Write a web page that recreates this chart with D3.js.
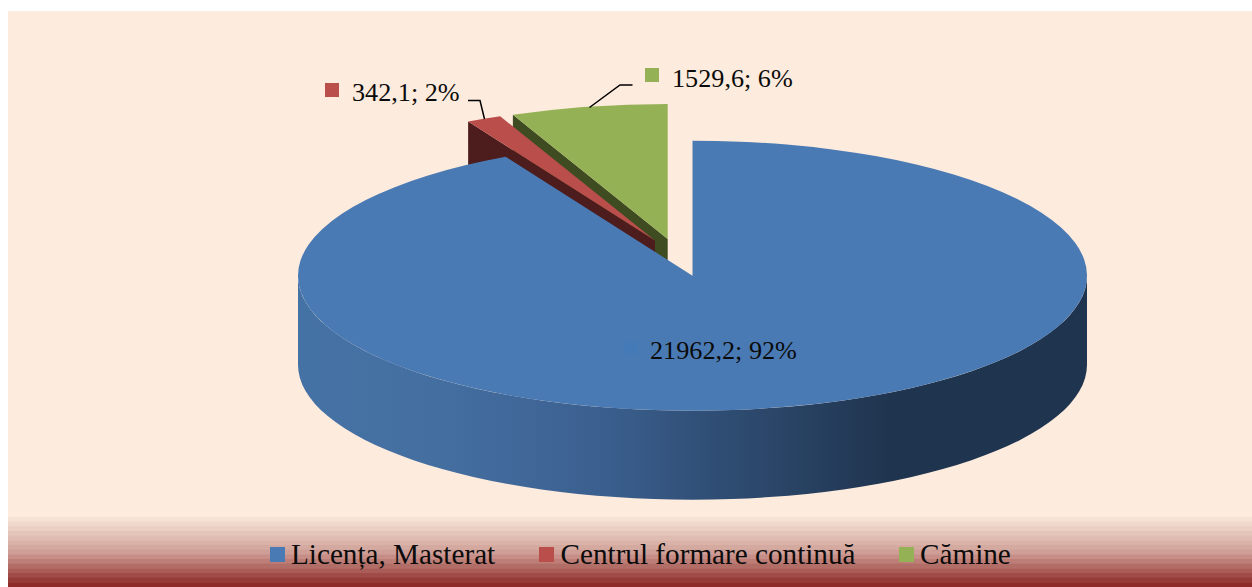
<!DOCTYPE html>
<html>
<head>
<meta charset="utf-8">
<script src="https://cdn.jsdelivr.net/npm/d3@7"></script>
<style>
  html, body { margin: 0; padding: 0; background: #fff; overflow: hidden; }
  text { font-family: "Liberation Serif", serif; fill: #0b0b0b; }
</style>
</head>
<body>
<div id="chart"></div>
<script>
// The values
const categories = ["Licența, Masterat", "Centrul formare continuă", "Cămine"];
const values = [21962.2, 342.1, 1529.6];
const percents = [92, 2, 6];

const topColors = ["#4a7ab4", "#ba4e4b", "#95b155"];
const cutColors = ["#1f3550", "#4d1c1c", "#3f4c21"];

const width = 1252;
const height = 587;

// Shape of the tilted pie
const cx = 692.5;
const cy = 275.7;
const rx = 394.5;
const ry = 135;
const depth = 89;

// How far each slice is pulled out of the pie (projected on the screen)
const pullX = [0, -37.5, -24.8];
const pullY = [0, -35.2, -36.8];

const labelBoxes = [[624, 341], [325, 83], [645, 68]];
const labelText = [[650, 359], [352, 101], [672, 87]];
const leaders = [null,
  [[468, 100.5], [480, 100.5], [484.5, 119]],
  [[632.5, 85], [620, 85], [589.5, 107.5]]];
const legendBoxes = [270, 539, 899];
const legendText = [291, 560.5, 920];

const color = d3.scaleOrdinal().domain(categories).range(topColors);
const cutColor = d3.scaleOrdinal().domain(categories).range(cutColors);
const comma = d3.formatLocale({decimal: ",", thousands: "", grouping: [3], currency: ["", ""]}).format(".1f");

const svg = d3.select("#chart").append("svg")
    .attr("width", width)
    .attr("height", height)
    .style("display", "block");

// Background panel
svg.append("rect")
    .attr("x", 8).attr("y", 11)
    .attr("width", width - 8).attr("height", height - 11)
    .attr("fill", "#fdebdd");

// Banded strip behind the legend
const bandTop = 517;
const bandCount = 15;
const bandStep = (height - bandTop) / bandCount;
const bandColor = d3.scaleLinear()
    .domain([0, 0.5, 1])
    .range(["#f5e2d4", "#cf9f97", "#8e2a28"]);
svg.append("g").selectAll("rect")
  .data(d3.range(bandCount))
  .join("rect")
    .attr("x", 8)
    .attr("y", d => bandTop + d * bandStep)
    .attr("width", width - 8)
    .attr("height", bandStep + 0.5)
    .attr("fill", d => bandColor(d / (bandCount - 1)));

// Gradient of the front wall
const defs = svg.append("defs");
const wall = defs.append("linearGradient")
    .attr("id", "wall")
    .attr("gradientUnits", "userSpaceOnUse")
    .attr("x1", cx - rx).attr("x2", cx + rx)
    .attr("y1", 0).attr("y2", 0);
[[0, "#4572a5"], [0.19, "#446ea0"], [0.38, "#3b6090"], [0.51, "#315078"], [0.61, "#2a4567"], [0.757, "#1f344e"], [1, "#1f344e"]]
  .forEach(d => wall.append("stop").attr("offset", d[0]).attr("stop-color", d[1]));

const pie = d3.pie().sort(null).value(d => d);
const slices = pie(values).map((d, i) => ({...d, i: i, name: categories[i]}));

const arc = d3.arc().innerRadius(0).outerRadius(rx);

// Point on the top ellipse for a pie angle
const onRim = (a, i) => [cx + pullX[i] + rx * Math.sin(a), cy + pullY[i] - ry * Math.cos(a)];
const apex = i => [cx + pullX[i], cy + pullY[i]];

// The flat cut wall along the start edge of a slice
const cutPath = d => {
  const a = apex(d.i);
  const b = onRim(d.startAngle, d.i);
  return `M${a}L${b}L${b[0]},${b[1] + depth}L${a[0]},${a[1] + depth}Z`;
};

// The front wall of the large slice, from the right end round to the left end
const frontPath = d => {
  const r = onRim(Math.PI / 2, d.i);
  const l = onRim(Math.PI * 1.5, d.i);
  return `M${r}A${rx},${ry} 0 0 1 ${l}L${l[0]},${l[1] + depth}A${rx},${ry} 0 0 0 ${r[0]},${r[1] + depth}Z`;
};

// Back to front: green, then red, then the big blue slice
const order = [slices[2], slices[1], slices[0]];
const pieG = svg.append("g");
order.forEach(d => {
  const g = pieG.append("g");
  if (d.i > 0) {
    g.append("path").attr("d", cutPath(d)).attr("fill", cutColor(d.name));
  } else {
    g.append("path").attr("d", frontPath(d)).attr("fill", "url(#wall)");
  }
  g.append("path")
      .attr("d", arc(d))
      .attr("transform", `translate(${cx + pullX[d.i]},${cy + pullY[d.i]}) scale(1,${ry / rx})`)
      .attr("fill", color(d.name));
});

// Leader lines
svg.append("g").selectAll("path")
  .data(leaders.filter(d => d))
  .join("path")
    .attr("d", d3.line())
    .attr("fill", "none")
    .attr("stroke", "#000")
    .attr("stroke-width", 1.5);

// Data labels with their little colour boxes
const labels = svg.append("g").selectAll("g")
  .data(slices)
  .join("g");
labels.append("rect")
    .attr("x", d => labelBoxes[d.i][0])
    .attr("y", d => labelBoxes[d.i][1])
    .attr("width", 14).attr("height", 14)
    .attr("fill", d => d.i === 0 ? "#457ab8" : color(d.name));
labels.append("text")
    .attr("x", d => labelText[d.i][0])
    .attr("y", d => labelText[d.i][1])
    .attr("font-size", 26.2)
    .text(d => `${comma(d.value)}; ${percents[d.i]}%`);

// Legend
const legend = svg.append("g").selectAll("g")
  .data(slices)
  .join("g");
legend.append("rect")
    .attr("x", d => legendBoxes[d.i])
    .attr("y", 547)
    .attr("width", 15).attr("height", 15)
    .attr("fill", d => color(d.name));
legend.append("text")
    .attr("x", d => legendText[d.i])
    .attr("y", 563.5)
    .attr("font-size", 29.2)
    .text(d => d.name);
</script>
</body>
</html>
